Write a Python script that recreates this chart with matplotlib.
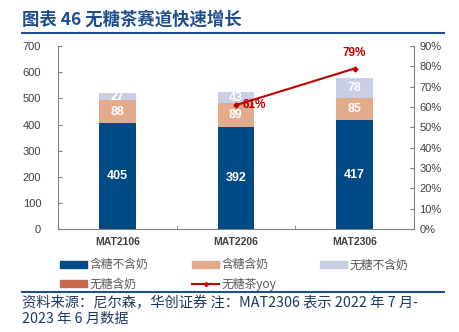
import matplotlib
matplotlib.use('Agg')
import matplotlib.pyplot as plt
from matplotlib.patches import Patch
from matplotlib.lines import Line2D
from matplotlib.ticker import FuncFormatter, FixedLocator

plt.rcParams['font.family'] = ['Liberation Sans', 'Noto Sans CJK SC', 'DejaVu Sans']

periods = ['MAT2106', 'MAT2206', 'MAT2306']
sugar_no_milk = [405, 392, 417]
sugar_milk = [88, 89, 85]
free_no_milk = [27, 43, 78]
free_milk = [0, 0, 0]
yoy_periods = ['MAT2206', 'MAT2306']
yoy = [0.61, 0.79]
yoy_labels = ['61%', '79%']

c_dark = '#004A86'
c_tan = '#E2AB8B'
c_lav = '#C9CEE5'
c_rust = '#C9684A'
c_red = '#C00000'
c_text = '#404040'

fig = plt.figure(figsize=(4.59, 3.32), dpi=100)
ax = fig.add_axes([0.126, 0.310, 0.776, 0.551])

x = range(len(periods))
w = 0.31
b1 = ax.bar(x, sugar_no_milk, w, color=c_dark)
bot2 = sugar_no_milk
b2 = ax.bar(x, sugar_milk, w, bottom=bot2, color=c_tan)
bot3 = [a + b for a, b in zip(sugar_no_milk, sugar_milk)]
b3 = ax.bar(x, free_no_milk, w, bottom=bot3, color=c_lav)
bot4 = [a + b for a, b in zip(bot3, free_no_milk)]
b4 = ax.bar(x, free_milk, w, bottom=bot4, color=c_rust)

for bars, vals in [(b1, sugar_no_milk), (b2, sugar_milk), (b3, free_no_milk)]:
    for r, v in zip(bars, vals):
        ax.text(r.get_x() + r.get_width() / 2, r.get_y() + r.get_height() / 2, str(v),
                ha='center', va='center', color='white', fontsize=9, fontweight='bold')

ax.set_ylim(0, 700)
ax.set_xlim(-0.5, 2.5)
ax.set_yticks(range(0, 701, 100))
ax.set_xticks(list(x))
ax.set_xticklabels(periods, fontsize=7.5, fontweight='bold', color=c_text)
ax.xaxis.set_minor_locator(FixedLocator([0.5, 1.5]))
ax.tick_params(axis='x', which='both', length=0, pad=6)
ax.tick_params(axis='x', which='minor', length=3, direction='in', color='#808080')
ax.tick_params(axis='y', direction='in', length=3, labelsize=8, labelcolor=c_text,
               color='#808080', pad=12)
for s in ['top', 'right']:
    ax.spines[s].set_visible(False)
for s in ['left', 'bottom']:
    ax.spines[s].set_color('#808080')

ax2 = ax.twinx()
xi = [periods.index(p) for p in yoy_periods]
ax2.plot(xi, yoy, color=c_red, lw=1.5, marker='D', markersize=2.5)
ax2.set_ylim(0, 0.9)
ax2.set_yticks([i / 10 for i in range(10)])
ax2.yaxis.set_major_formatter(FuncFormatter(lambda v, _: f'{v * 100:.0f}%'))
ax2.tick_params(axis='y', direction='in', length=3, labelsize=8, labelcolor=c_text,
                color='#808080', pad=4)
for s in ['top', 'left', 'bottom']:
    ax2.spines[s].set_visible(False)
ax2.spines['right'].set_color('#808080')
ax2.text(xi[0] + 0.06, yoy[0], yoy_labels[0], color=c_red, fontsize=8.5,
         fontweight='bold', ha='left', va='center')
ax2.text(xi[1], yoy[1] + 0.045, yoy_labels[1], color=c_red, fontsize=8.5,
         fontweight='bold', ha='center', va='bottom')

# legend, ordered so the column-major fill reads row by row
handles = [
    Patch(color=c_dark, label='含糖不含奶'),
    Patch(color=c_rust, label='无糖含奶'),
    Patch(color=c_tan, label='含糖含奶'),
    Line2D([], [], color=c_red, lw=1.5, marker='D', markersize=2, label='无糖茶yoy'),
    Patch(color=c_lav, label='无糖不含奶'),
]
fig.legend(handles=handles, ncol=3, loc='upper left', bbox_to_anchor=(0.131, 0.222),
           frameon=False, handlelength=2.3, handleheight=0.55,
           columnspacing=3.7, labelspacing=0.55, handletextpad=0.2,
           borderpad=0, borderaxespad=0,
           labelcolor='#595959', prop={'family': ['Noto Sans CJK SC'], 'size': 8.5})

# title and rules
fig.text(0.048, 0.94, '图表 46 无糖茶赛道快速增长', fontsize=12.5, fontweight='bold',
         color='#1F4E8C', family=['Noto Sans CJK SC'], va='center')
fig.add_artist(Line2D([0.048, 0.968], [0.90, 0.90], color='#1F4E8C', lw=1.5))
fig.add_artist(Line2D([0.048, 0.968], [0.121, 0.121], color='#1F4E8C', lw=1.5))

note = '资料来源：尼尔森，华创证券 注：MAT2306 表示 2022 年 7 月-\n2023 年 6 月数据'
fig.text(0.048, 0.063, note, fontsize=10.3, color='#1F3864', style='italic',
         family=['Noto Sans CJK SC'], va='center', linespacing=1.2)

fig.savefig('out.png', dpi=100)
